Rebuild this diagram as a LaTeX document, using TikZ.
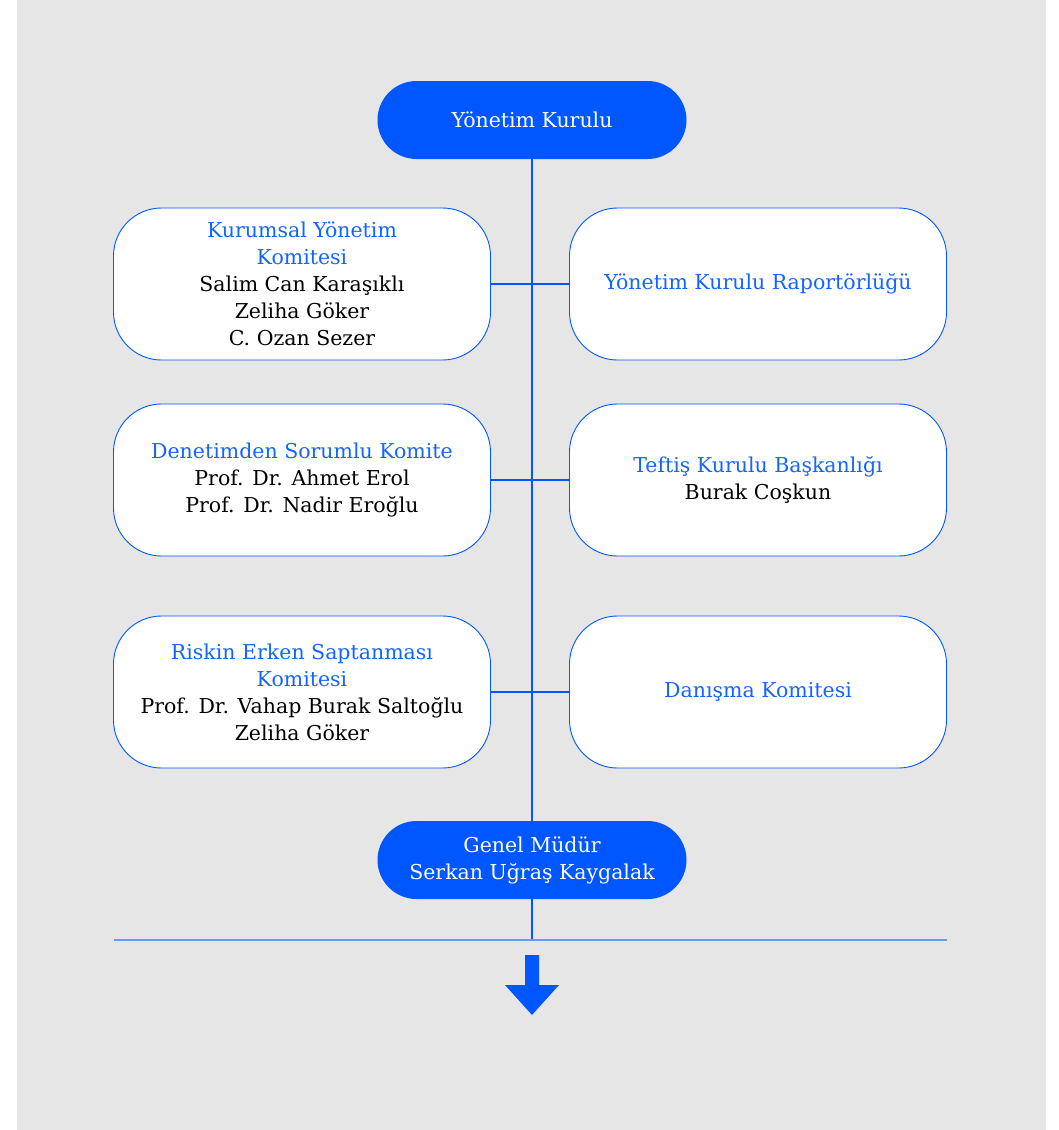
\documentclass[tikz,border=0pt]{standalone}
\usepackage{fontspec}
\setmainfont{DejaVu Serif}
\usetikzlibrary{positioning}
\definecolor{brand}{HTML}{0057FF}
\definecolor{brandtext}{HTML}{1464FF}
\definecolor{bggray}{HTML}{E6E6E6}
\newcommand{\ttl}[1]{\textcolor{brandtext}{#1}}

\begin{document}
\begin{tikzpicture}[x=1pt,y=-1pt,
  pill/.style={fill=brand,text=white,rounded corners=39pt,minimum width=309pt,minimum height=78pt,align=center,font=\fontsize{20.5}{27}\selectfont},
  box/.style={draw=brand,line width=0.9pt,fill=white,rounded corners=48pt,minimum width=377pt,minimum height=152pt,align=center,font=\fontsize{20.5}{27}\selectfont},
  link/.style={draw=brand,line width=1.1pt}]
\useasboundingbox (0,0) rectangle (1058,1130);
\fill[bggray] (17,0) rectangle (1046,1130);

\node[pill] (yk) at (532,120) {Yönetim Kurulu};
\node[pill] (gm) at (532,860) {Genel Müdür\\Serkan Uğraş Kaygalak};

% committees
\node[box] (kyk) at (302,284) {\ttl{Kurumsal Yönetim}\\\ttl{Komitesi}\\Salim Can Karaşıklı\\Zeliha Göker\\C. Ozan Sezer};
\node[box] (ykr) at (758,284) {\ttl{Yönetim Kurulu Raportörlüğü}};
\node[box] (dsk) at (302,480) {\ttl{Denetimden Sorumlu Komite}\\Prof. Dr. Ahmet Erol\\Prof. Dr. Nadir Eroğlu};
\node[box] (tkb) at (758,480) {\ttl{Teftiş Kurulu Başkanlığı}\\Burak Coşkun};
\node[box] (resk) at (302,692) {\ttl{Riskin Erken Saptanması}\\\ttl{Komitesi}\\Prof. Dr. Vahap Burak Saltoğlu\\Zeliha Göker};
\node[box] (dk) at (758,692) {\ttl{Danışma Komitesi}};

\coordinate (spine) at (532,940);
\coordinate (bl) at (114,940);
\coordinate (br) at (947,940);

\draw[link] (yk.south) -- (gm.north);
\draw[link] (gm.south) -- (spine);
\draw[link] (kyk.east) -- (ykr.west);
\draw[link] (dsk.east) -- (tkb.west);
\draw[link] (resk.east) -- (dk.west);
\draw[link,draw=brand!60] (bl) -- (br);

% down arrow
\coordinate (tip) at (532,1015);
\fill[brand] (tip) -- ++(-27,-30) -- ++(20,0) -- ++(0,-30) -- ++(14,0) -- ++(0,30) -- ++(20,0) -- cycle;
\end{tikzpicture}
\end{document}
